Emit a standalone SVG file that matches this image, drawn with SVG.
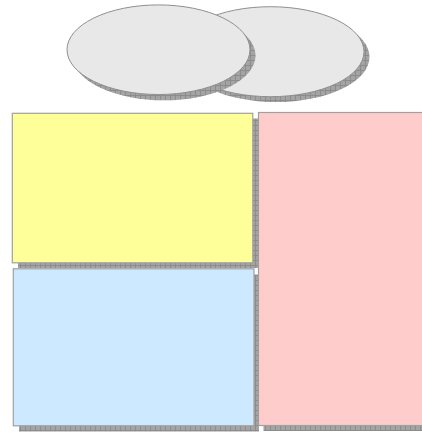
<svg xmlns="http://www.w3.org/2000/svg" width="422" height="433" viewBox="0 0 422 433">
<defs>
<pattern id="hatch" patternUnits="userSpaceOnUse" width="5" height="5">
<rect width="5" height="5" fill="#a4a4a4"/>
<path d="M0.5 0V5M0 0.5H5" stroke="#8c8c8c" stroke-width="1"/>
</pattern>
</defs>
<style>
.shadow{fill:url(#hatch);stroke:none}
.ell{fill:#e8e8e8;stroke:#8f8f8f;stroke-width:1}
.box{stroke:#a0a0a0;stroke-width:1.2}
</style>
<rect width="422" height="433" fill="#ffffff"/>
<g id="ellipse-right">
<ellipse class="shadow" cx="276" cy="57" rx="93.5" ry="45"/>
<ellipse class="ell" cx="270.5" cy="51.7" rx="93.5" ry="45"/>
</g>
<g id="ellipse-left">
<ellipse class="shadow" cx="164" cy="55.5" rx="91.5" ry="44.8"/>
<ellipse class="ell" cx="158.5" cy="49.7" rx="91.5" ry="44.8"/>
</g>
<g id="box-yellow">
<rect class="shadow" x="18" y="118.5" width="240.5" height="149.5"/>
<rect class="box" x="12.3" y="113.3" width="240.5" height="149.5" fill="#ffff99"/>
</g>
<g id="box-blue">
<rect class="shadow" x="19" y="274.5" width="240" height="157"/>
<rect class="box" x="13.3" y="268.8" width="240.7" height="157" fill="#cce9ff"/>
</g>
<g id="box-pink">
<rect class="shadow" x="263.5" y="118" width="170" height="313"/>
<rect class="box" x="258.5" y="112.5" width="175" height="313" fill="#ffcccc"/>
</g>
</svg>
